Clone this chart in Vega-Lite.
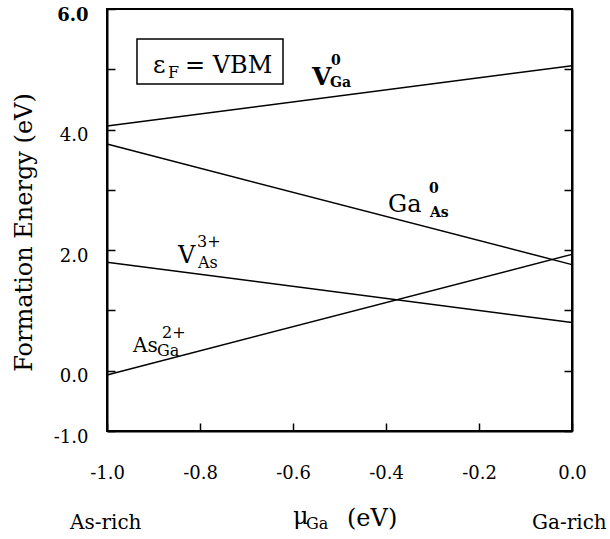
{
  "$schema": "https://vega.github.io/schema/vega-lite/v6.json",
  "width": 465,
  "height": 422,
  "autosize": "none",
  "padding": {"left": 107, "top": 9, "right": 38, "bottom": 108},
  "background": "white",
  "config": {
    "view": {"stroke": "black", "strokeWidth": 2},
    "font": "DejaVu Serif",
    "text": {"font": "DejaVu Serif"},
    "axis": {
      "grid": false,
      "domainColor": "black",
      "domainWidth": 2,
      "tickColor": "black",
      "tickWidth": 1.5,
      "labelFont": "DejaVu Serif",
      "labelFontSize": 18,
      "labelColor": "black",
      "titleFont": "DejaVu Serif",
      "titleColor": "black"
    }
  },
  "layer": [
    {
      "data": {"values": [
        {"defect": "V_Ga0", "mu": -1.0, "E": 4.06},
        {"defect": "V_Ga0", "mu": 0.0, "E": 5.06},
        {"defect": "Ga_As0", "mu": -1.0, "E": 3.76},
        {"defect": "Ga_As0", "mu": 0.0, "E": 1.76},
        {"defect": "V_As3+", "mu": -1.0, "E": 1.8},
        {"defect": "V_As3+", "mu": 0.0, "E": 0.8},
        {"defect": "As_Ga2+", "mu": -1.0, "E": -0.07},
        {"defect": "As_Ga2+", "mu": 0.0, "E": 1.93}
      ]},
      "mark": {"type": "line", "color": "black", "strokeWidth": 1.5},
      "encoding": {
        "x": {"field": "mu", "type": "quantitative",
          "scale": {"domain": [-1, 0], "nice": false, "zero": false},
          "axis": {"values": [-1, -0.8, -0.6, -0.4, -0.2, 0], "tickSize": -8, "labelPadding": 41,
            "labelExpr": "datum.value < 0 ? '-' + format(-datum.value, '.1f') : format(datum.value, '.1f')",
            "title": null, "labelFlush": false}},
        "y": {"field": "E", "type": "quantitative",
          "scale": {"domain": [-1, 6], "nice": false, "zero": false},
          "axis": {"values": [-1, 0, 1, 2, 3, 4, 5, 6], "tickSize": -8, "labelPadding": 27,
            "labelBaseline": "top", "labelFlush": false, "labelOffset": -3,
            "labelFontWeight": {"condition": {"test": "datum.value == 6", "value": "bold"}, "value": "normal"},
            "labelExpr": "(datum.value == 1 || datum.value == 3 || datum.value == 5) ? '' : (datum.value < 0 ? '-' + format(-datum.value, '.1f') : format(datum.value, '.1f'))",
            "title": "Formation Energy (eV)", "titleFontSize": 24, "titleFontWeight": "normal",
            "titleX": -83, "titleY": 223, "titleAlign": "center", "titleBaseline": "middle", "titleAngle": 270}},
        "detail": {"field": "defect"}
      }
    },
    {
      "data": {"values": [{"x1": -0.9355, "x2": -0.6215, "y1": 5.502, "y2": 4.756}]},
      "mark": {"type": "rect", "fill": "white", "stroke": "black", "strokeWidth": 1.5},
      "encoding": {
        "x": {"field": "x1", "type": "quantitative", "axis": null},
        "x2": {"field": "x2"},
        "y": {"field": "y1", "type": "quantitative",
          "axis": {"orient": "right", "values": [-1, 0, 1, 2, 3, 4, 5, 6], "tickSize": -8, "labels": false, "title": null}},
        "y2": {"field": "y2"}
      }
    },
    {
      "data": {"values": [
        {"t": "ε", "x": -0.901, "y": 4.939},
        {"t": "= VBM", "x": -0.8323, "y": 4.939},
        {"t": "Ga", "x": -0.3957, "y": 2.634},
        {"t": "V", "x": -0.8473, "y": 1.788},
        {"t": "μ", "x": -0.6, "y": -2.541},
        {"t": "(eV)", "x": -0.4839, "y": -2.574}
      ]},
      "mark": {"type": "text", "align": "left", "baseline": "alphabetic", "fontSize": 24, "color": "black", "clip": false},
      "encoding": {
        "x": {"field": "x", "type": "quantitative", "axis": null},
        "y": {"field": "y", "type": "quantitative", "axis": null},
        "text": {"field": "t"}
      }
    },
    {
      "data": {"values": [
        {"t": "As", "x": -0.9441, "y": 0.312},
        {"t": "As-rich", "x": -1.0796, "y": -2.624},
        {"t": "Ga-rich", "x": -0.086, "y": -2.624}
      ]},
      "mark": {"type": "text", "align": "left", "baseline": "alphabetic", "fontSize": 20, "color": "black", "clip": false},
      "encoding": {
        "x": {"field": "x", "type": "quantitative", "axis": null},
        "y": {"field": "y", "type": "quantitative", "axis": null},
        "text": {"field": "t"}
      }
    },
    {
      "data": {"values": [
        {"t": "F", "x": -0.8688, "y": 4.856},
        {"t": "3+", "x": -0.8065, "y": 2.053},
        {"t": "As", "x": -0.8043, "y": 1.705},
        {"t": "2+", "x": -0.8817, "y": 0.544},
        {"t": "Ga", "x": -0.8925, "y": 0.245},
        {"t": "Ga", "x": -0.572, "y": -2.624}
      ]},
      "mark": {"type": "text", "align": "left", "baseline": "alphabetic", "fontSize": 16, "color": "black", "clip": false},
      "encoding": {
        "x": {"field": "x", "type": "quantitative", "axis": null},
        "y": {"field": "y", "type": "quantitative", "axis": null},
        "text": {"field": "t"}
      }
    },
    {
      "data": {"values": [
        {"t": "V", "x": -0.5591, "y": 4.74}
      ]},
      "mark": {"type": "text", "align": "left", "baseline": "alphabetic", "fontSize": 25, "fontWeight": "bold", "color": "black", "clip": false},
      "encoding": {
        "x": {"field": "x", "type": "quantitative", "axis": null},
        "y": {"field": "y", "type": "quantitative", "axis": null},
        "text": {"field": "t"}
      }
    },
    {
      "data": {"values": [
        {"t": "Ga", "x": -0.5204, "y": 4.706},
        {"t": "0", "x": -0.5183, "y": 5.071},
        {"t": "0", "x": -0.3075, "y": 2.949},
        {"t": "As", "x": -0.3054, "y": 2.551}
      ]},
      "mark": {"type": "text", "align": "left", "baseline": "alphabetic", "fontSize": 14, "fontWeight": "bold", "color": "black", "clip": false},
      "encoding": {
        "x": {"field": "x", "type": "quantitative", "axis": null},
        "y": {"field": "y", "type": "quantitative", "axis": null},
        "text": {"field": "t"}
      }
    }
  ],
  "resolve": {"axis": {"x": "independent", "y": "independent"}}
}
